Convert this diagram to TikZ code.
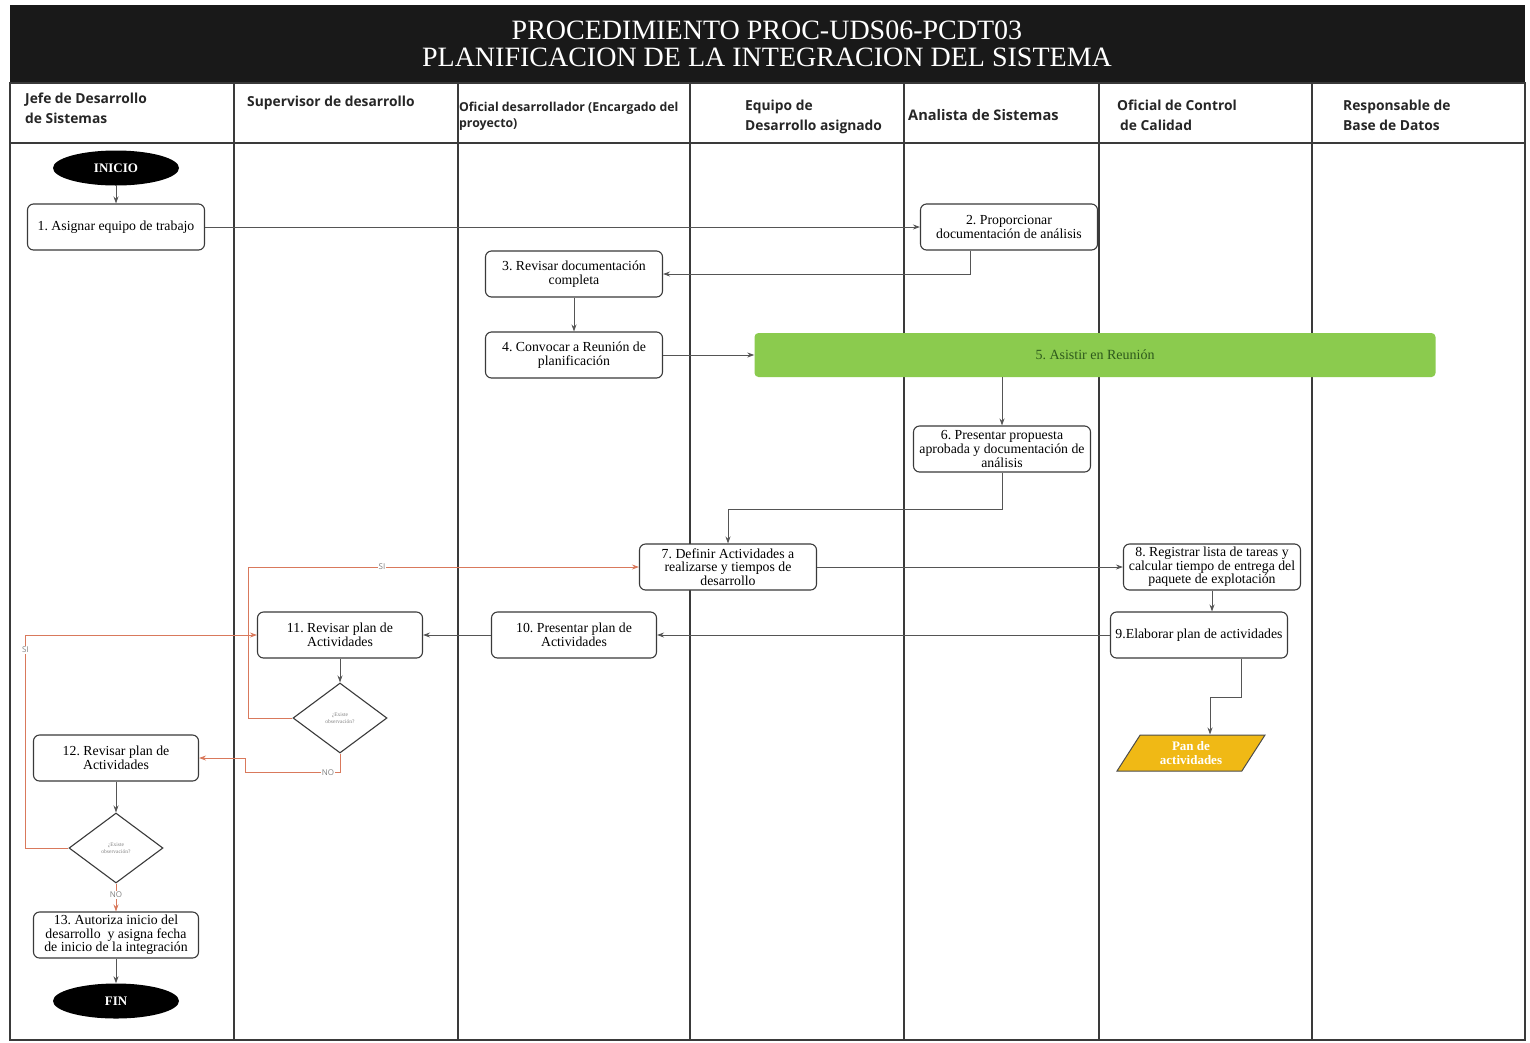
\documentclass[tikz,border=0pt]{standalone}
\usepackage{fontspec}
\setmainfont{Liberation Serif}
\newfontfamily\hdr{Open Sans}
\usetikzlibrary{shapes.geometric,arrows.meta,calc}
\definecolor{lane}{HTML}{3A3A3A}
\definecolor{edge}{HTML}{555555}
\definecolor{redflow}{HTML}{D9795C}
\definecolor{meet}{HTML}{8BCB4E}
\definecolor{meettext}{HTML}{2E5A1C}
\definecolor{docfill}{HTML}{F0B915}
\frenchspacing
\begin{document}
\frenchspacing
\begin{tikzpicture}[x=1pt,y=-1pt,
  proc/.style={draw=lane,line width=1.1pt,rounded corners=6pt,fill=white,
    minimum width=177pt,minimum height=46pt,inner sep=1pt,
    align=center,font=\fontsize{13.8}{13.6}\selectfont},
  procs/.style={proc,minimum width=165pt},
  term/.style={ellipse,fill=black,text=white,minimum width=126pt,minimum height=35pt,
    inner sep=0pt,font=\fontsize{13}{14}\selectfont\bfseries},
  decide/.style={diamond,draw=lane,line width=1.1pt,fill=white,minimum width=94pt,
    minimum height=70pt,inner sep=0pt,align=center,text=gray,
    font=\fontsize{5.5}{6.5}\selectfont},
  flow/.style={draw=edge,line width=0.9pt,-{Stealth[length=7pt,width=5pt]}},
  rflow/.style={draw=redflow,line width=0.9pt,-{Stealth[length=7pt,width=5pt]}},
  lbl/.style={fill=white,inner sep=1pt,text=gray,font=\hdr\fontsize{8}{9}\selectfont},
  head/.style={anchor=north west,align=left,inner sep=0pt,text=black!85,
    font=\hdr\bfseries\fontsize{13.8}{19.5}\selectfont},
  laneline/.style={draw=lane,line width=1.8pt}
]
\useasboundingbox (0,0) rectangle (1530,1042);
\fill[white] (0,0) rectangle (1530,1042);

% title bar
\fill[black!90] (10,5) rectangle (1525,83);
\node[text=white,align=center,font=\fontsize{28}{27}\selectfont] (title) at (767,44)
  {PROCEDIMIENTO PROC-UDS06-PCDT03\\PLANIFICACION DE LA INTEGRACION DEL SISTEMA};

% swimlanes
\draw[laneline] (10,83) rectangle (1525,1040);
\draw[laneline] (10,143) -- (1525,143);
\foreach \xx in {234,458,690,904,1099,1312}
  \draw[laneline] (\xx,83) -- (\xx,1040);

% lane headings
\node[head] (h1) at (25,93) {Jefe de Desarrollo\\de Sistemas};
\node[head] (h2) at (247,96) {Supervisor de desarrollo};
\node[head,font=\hdr\bfseries\fontsize{12.3}{16}\selectfont] (h3) at (459,102) {Oficial desarrollador (Encargado del\\proyecto)};
\node[head] (h4) at (745,100) {Equipo de\\Desarrollo asignado};
\node[head,font=\hdr\bfseries\fontsize{14.6}{19.5}\selectfont] (h5) at (908,109) {Analista de Sistemas};
\node[head] (h6) at (1117,100) {Oficial de Control\\\hspace*{3pt}de Calidad};
\node[head] (h7) at (1343,100) {Responsable de\\Base de Datos};

% activities
\node[term] (inicio) at (116,168) {INICIO};
\node[proc] (n1) at (116,227) {1. Asignar equipo de trabajo};
\node[proc] (n2) at (1009,227) {2. Proporcionar\\documentación de análisis};
\node[proc] (n3) at (574,274) {3. Revisar documentación\\completa};
\node[proc] (n4) at (574,355) {4. Convocar a Reunión de\\planificación};
\node[fill=meet,rounded corners=4pt,minimum width=681pt,minimum height=44pt,
  text=meettext,font=\fontsize{14}{15}\selectfont] (n5) at (1095,355) {5. Asistir en Reunión};
\node[proc] (n6) at (1002,449) {6. Presentar propuesta\\aprobada y documentación de\\análisis};
\node[proc] (n7) at (728,567) {7. Definir Actividades a\\realizarse y tiempos de\\desarrollo};
\node[proc] (n8) at (1212,567) {8. Registrar lista de tareas y\\calcular tiempo de entrega del\\paquete de explotación};
\node[proc] (n9) at (1199,635) {9.Elaborar plan de actividades};
\node[procs] (n10) at (574,635) {10. Presentar plan de\\Actividades};
\node[procs] (n11) at (340,635) {11. Revisar plan de\\Actividades};
\node[decide] (d1) at (340,718) {¿Existe\\observación?};
\node[procs] (n12) at (116,758) {12. Revisar plan de\\Actividades};
\node[decide] (d2) at (116,848) {¿Existe\\observación?};
\node[procs] (n13) at (116,935) {13. Autoriza inicio del\\desarrollo\ \ y asigna fecha\\de inicio de la integración};
\node[term] (fin) at (116,1001) {FIN};
\node[trapezium,trapezium left angle=45,trapezium right angle=135,trapezium stretches body,
  draw=black!70,line width=1pt,fill=docfill,minimum width=148pt,minimum height=36pt,
  inner sep=0pt,align=center,text=white,font=\fontsize{13}{14}\selectfont\bfseries]
  (plan) at (1191,753) {Pan de\\actividades};

% connectors
\draw[flow] (inicio) -- (n1);
\draw[flow] (n1) -- (n2);
\draw[flow] ([xshift=-39pt]n2.south) |- (n3.east);
\draw[flow] (n3) -- (n4);
\draw[flow] (n4) -- (n5);
\draw[flow] (n5.south -| n6.north) -- (n6.north);
\draw[flow] (n6.south) -- ++(0,37) -| (n7.north);
\draw[flow] (n7) -- (n8);
\draw[flow] (n8.south) -- (n8.south |- n9.north);
\draw[flow] (n9) -- (n10);
\draw[flow] (n10) -- (n11);
\draw[flow] (n11) -- (d1);
\draw[flow] ([xshift=42pt]n9.south) -- ++(0,39) -| ([xshift=19pt]plan.north);
\draw[flow] (n12) -- (d2);
\draw[flow] (n13) -- (fin);

% decisions
\draw[rflow] (d1.west) -- ++(-44,0) |- (n7.west);
\path (n7.west) ++(-257,0) node[lbl] (si1) {SI};
\draw[rflow] (d1.south) -- ++(0,19) -- ++(-95,0) |- (n12.east);
\path (d1.south) ++(-12,19) node[lbl] (no1) {NO};
\draw[rflow] (d2.west) -- ++(-43,0) |- (n11.west);
\path (d2.west) ++(-43,-198) node[lbl] (si2) {SI};
\draw[rflow] (d2.south) -- (n13.north);
\path (d2.south) ++(0,11) node[lbl] (no2) {NO};
\end{tikzpicture}
\end{document}
